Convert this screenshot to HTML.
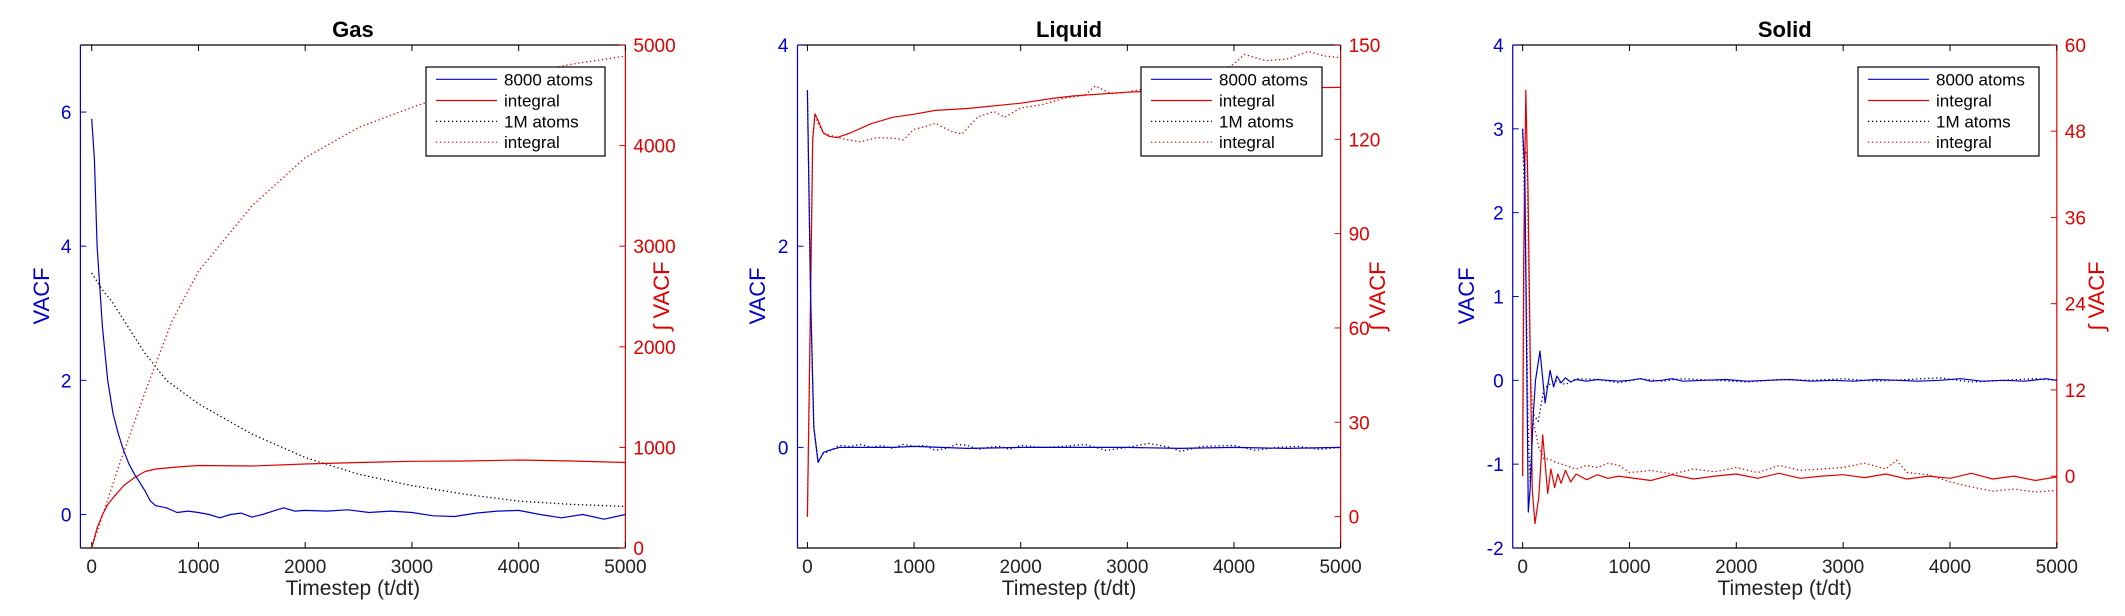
<!DOCTYPE html>
<html><head><meta charset="utf-8">
<style>
html,body{margin:0;padding:0;background:#fff;}
svg{display:block;font-family:"Liberation Sans",Arial,sans-serif;}
</style></head>
<body>
<svg id="fig" width="2125" height="616" viewBox="0 0 2125 616" xmlns="http://www.w3.org/2000/svg"></svg>
<script>
// ---------- Tick labels ----------
const xTicks = [0,1000,2000,3000,4000,5000];
const gasLeftTicks = [0,2,4,6];
const gasRightTicks = [0,1000,2000,3000,4000,5000];
const liqLeftTicks = [0,2,4];
const liqRightTicks = [0,30,60,90,120,150];
const solLeftTicks = [-2,-1,0,1,2,3,4];
const solRightTicks = [0,12,24,36,48,60];

// ---------- Gas data ----------
const gasT8k = [0,25,50,100,150,200,250,300,350,400,450,500,550,600,700,800,900,1000,1100,1200,1300,1400,1500,1600,1700,1800,1900,2000,2200,2400,2600,2800,3000,3200,3400,3600,3800,4000,4200,4400,4600,4800,5000];
const gasV8k = [5.9,5.3,4.0,2.8,2.0,1.5,1.2,0.95,0.75,0.6,0.48,0.35,0.2,0.13,0.1,0.03,0.05,0.03,0.0,-0.05,0.0,0.02,-0.04,0.0,0.05,0.1,0.05,0.06,0.05,0.07,0.03,0.05,0.03,-0.02,-0.03,0.02,0.05,0.06,0.0,-0.05,0.0,-0.07,0.0];
const gasTI8k = [0,50,100,150,200,300,400,500,600,800,1000,1500,2000,2500,3000,3500,4000,4500,5000];
const gasI8k = [0,200,330,430,500,620,700,760,785,805,820,815,835,850,862,865,875,865,850];
const gasT1M = [0,100,200,300,500,700,1000,1500,2000,2500,3000,3500,4000,4500,5000];
const gasV1M = [3.6,3.35,3.15,2.9,2.4,2.0,1.65,1.2,0.85,0.6,0.43,0.3,0.2,0.15,0.12];
const gasTI1M = [0,250,500,750,1000,1500,2000,2500,3000,3500,4000,4500,5000];
const gasI1M = [0,800,1550,2250,2750,3400,3880,4180,4380,4560,4700,4810,4890];

// ---------- Liquid data ----------
const liqT8k = [0,30,60,100,150,200,300,500,800,1000,1500,2000,2500,3000,3500,4000,4500,5000];
const liqV8k = [3.55,1.5,0.2,-0.15,-0.05,-0.03,0.0,0.0,0.0,0.01,-0.01,0.0,0.0,0.0,-0.01,0.0,-0.01,0.0];
const liqT1M = [0,30,60,100,150,200,300,400,500,600,700,800,900,1000,1100,1200,1300,1400,1500,1600,1700,1800,1900,2000,2200,2400,2600,2800,3000,3200,3400,3500,3700,4000,4200,4400,4600,4800,5000];
const liqV1M = [3.55,1.5,0.2,-0.14,-0.06,-0.04,0.02,0.01,0.03,0.0,0.02,-0.01,0.03,0.01,0.02,-0.03,-0.01,0.03,0.02,-0.02,0.0,0.01,-0.02,0.02,0.0,0.01,0.03,-0.03,0.0,0.04,0.0,-0.04,0.01,0.02,-0.03,0.0,0.01,-0.02,0.0];
const liqTI8k = [0,30,50,71,100,150,200,274,400,600,800,1000,1200,1500,2000,2300,2500,3000,3500,4000,5000];
const liqI8k = [0,70,120,128.1,126,122,121,120.5,122,125,127,128,129.2,129.8,131.5,133,133.8,135,135.7,136.2,136.5];
const liqTI1M = [0,30,50,71,100,150,200,350,500,650,800,900,1000,1100,1200,1350,1450,1600,1750,1850,2000,2200,2400,2600,2700,2850,3000,3150,3300,3450,3600,3800,4000,4100,4200,4300,4500,4700,4850,5000];
const liqI1M = [0,70,120,128,125,122,121.4,120,119.2,120.5,120.4,119.8,123.2,124,125.1,122.5,121.7,127.2,128.8,127,130,131,133,134,137,134.5,135,136,139,141,139.5,140,144,147,146,145,145.5,148,146.5,146];

// ---------- Solid data ----------
const solT8k = [0,20,40,53,70,100,120,163,210,257,290,320,360,400,450,500,600,700,800,900,1000,1100,1200,1300,1400,1500,1700,1900,2100,2300,2500,2700,2900,3100,3300,3500,3700,3900,4100,4300,4500,4700,4900,5000];
const solV8k = [3.0,2.5,0.0,-1.57,-1.3,-0.4,0.0,0.35,-0.27,0.12,-0.08,0.05,-0.03,0.03,-0.02,0.01,-0.01,0.01,0.0,-0.01,0.0,0.02,-0.01,0.0,0.02,-0.01,0.0,0.01,-0.01,0.0,0.01,-0.01,0.0,-0.01,0.01,0.0,-0.01,0.0,0.02,-0.01,0.0,-0.01,0.02,0.0];
const solT1M = [0,30,50,70,100,145,200,250,300,400,500,700,900,1100,1300,1500,1800,2100,2400,2700,3000,3300,3600,3900,4200,4500,4800,5000];
const solV1M = [3.0,1.5,-0.5,-1.2,-0.4,-0.49,-0.1,-0.05,0.0,-0.05,0.02,0.01,-0.03,0.02,-0.01,0.02,0.0,-0.02,0.01,0.0,0.02,-0.01,0.01,0.03,-0.02,0.0,0.02,0.0];
const solTI8k = [0,10,30,50,70,90,116,150,188,235,265,300,330,360,400,450,500,600,700,800,900,1000,1200,1400,1600,1800,2000,2200,2400,2600,2800,3000,3200,3400,3600,3800,4000,4200,4400,4600,4800,5000];
const solI8k = [0,30,53.7,40,18,-2,-6.6,-3,5.75,-2.4,1.0,-1.6,0.3,-1.0,0.8,-0.8,0.3,-0.5,0.2,-0.3,0.0,-0.2,-0.6,0.2,-0.4,0.0,0.3,-0.3,0.4,-0.3,0.0,0.2,-0.2,0.3,-0.4,0.0,-0.3,0.4,-0.4,0.0,-0.6,-0.1];
const solTI1M = [0,20,40,70,100,150,200,250,300,400,500,600,700,800,900,1000,1200,1400,1600,1800,2000,2200,2400,2600,2800,3000,3200,3400,3500,3600,3800,4000,4200,4400,4600,4800,5000];
const solI1M = [0,45,45,15,7.7,4,2.4,2.4,2.0,1.5,1.0,1.5,1.2,1.8,1.5,0.5,0.8,0.3,1.0,0.6,1.2,0.5,1.5,0.8,1.0,1.2,1.8,1.0,2.2,0.5,0.2,-0.8,-1.5,-2.1,-1.8,-2.2,-2.0];

// ---------- drawing ----------
const NS = "http://www.w3.org/2000/svg";
const svg = document.getElementById('fig');
function mk(tag, attrs, parent){
  const e = document.createElementNS(NS, tag);
  for (const k in attrs) e.setAttribute(k, attrs[k]);
  (parent||svg).appendChild(e);
  return e;
}
const BLUE = "#0000c8", RED = "#e00000", BLACK = "#000";
const TOP = 45, BOT = 548;

function panel(p){
  const g = mk('g', {});
  
  
  const xs = t => p.left + (t - p.xmin) / (5000 - p.xmin) * (p.right - p.left);
  const yl = v => BOT - (v - p.ylMin) / (p.ylMax - p.ylMin) * (BOT - TOP);
  const yr = v => BOT - (v - p.yrMin) / (p.yrMax - p.yrMin) * (BOT - TOP);
  // axes lines
  let e;
  e = mk('line', {x1:p.left, y1:TOP, x2:p.right, y2:TOP, stroke:BLACK, 'stroke-width':1.2}, g);
   
  e = mk('line', {x1:p.left, y1:BOT, x2:p.right, y2:BOT, stroke:BLACK, 'stroke-width':1.2}, g);
   
  e = mk('line', {x1:p.left, y1:TOP, x2:p.left, y2:BOT, stroke:BLUE, 'stroke-width':1.2}, g);
   
  e = mk('line', {x1:p.right, y1:TOP, x2:p.right, y2:BOT, stroke:RED, 'stroke-width':1.2}, g);
   
  // x ticks
  xTicks.forEach(t => {
    const x = xs(t);
    mk('line', {x1:x, y1:BOT, x2:x, y2:BOT-6, stroke:BLACK, 'stroke-width':1}, g);
    mk('line', {x1:x, y1:TOP, x2:x, y2:TOP+6, stroke:BLACK, 'stroke-width':1}, g);
    const tx = mk('text', {x:x, y:573, 'font-size':19, 'text-anchor':'middle', fill:'#222'}, g);
    
    
    tx.textContent = t;
  });
  p.lt.forEach(v => {
    const y = yl(v);
    mk('line', {x1:p.left, y1:y, x2:p.left+6, y2:y, stroke:BLUE, 'stroke-width':1}, g);
    const tx = mk('text', {x:p.left-9, y:y+7, 'font-size':19, 'text-anchor':'end', fill:BLUE}, g);
    
    
    tx.textContent = v;
  });
  p.rt.forEach(v => {
    const y = yr(v);
    mk('line', {x1:p.right, y1:y, x2:p.right-6, y2:y, stroke:RED, 'stroke-width':1}, g);
    const tx = mk('text', {x:p.right+8, y:y+7, 'font-size':19, 'text-anchor':'start', fill:RED}, g);
    
    
    tx.textContent = v;
  });
  // series
  function series(ts, vs, yfn, color, dotted, nm){
    const d = ts.map((t,i) => (i?'L':'M') + xs(t).toFixed(1) + ',' + yfn(vs[i]).toFixed(1)).join('');
    const a = {d:d, fill:'none', stroke:color, 'stroke-width':dotted?1.3:1.2, 'stroke-linejoin':'round'};
    if (dotted) a['stroke-dasharray'] = '1.3 2.7';
    const path = mk('path', a, g);
    
    
  }
  series(p.d.tI1M, p.d.i1M, yr, RED, true, 'integral-1m-line');
  series(p.d.t1M, p.d.v1M, yl, p.name==='gas'?BLACK:'#000070', true, 'vacf-1m-line');
  series(p.d.tI8k, p.d.i8k, yr, RED, false, 'integral-8000-line');
  series(p.d.t8k, p.d.v8k, yl, BLUE, false, 'vacf-8000-line');
  // title
  const ti = mk('text', {x:(p.left+p.right)/2, y:37, 'font-size':22, 'font-weight':'bold', 'text-anchor':'middle', fill:BLACK}, g);
   
  ti.textContent = p.title;
  const xt = mk('text', {x:(p.left+p.right)/2, y:595, 'font-size':21, 'text-anchor':'middle', fill:'#222'}, g);
   
  xt.textContent = 'Timestep (t/dt)';
  const yt = mk('text', {x:0, y:0, 'font-size':22, 'text-anchor':'middle', fill:BLUE, transform:`translate(${p.ylab+8},296) rotate(-90)`}, g);
   
  yt.textContent = 'VACF';
  const yt2 = mk('text', {x:0, y:0, 'font-size':22, 'text-anchor':'middle', fill:RED, transform:`translate(${p.yrlab+8},296) rotate(-90)`}, g);
   
  yt2.textContent = '\u222B VACF';
  // legend
  const lg = mk('g', {}, g);
   
  mk('rect', {x:p.lgx, y:67, width:p.lgw, height:89, fill:'#fff', stroke:BLACK, 'stroke-width':1.2}, lg);
  const entries = [['8000 atoms',BLUE,false],['integral',RED,false],['1M atoms',BLACK,true],['integral',RED,true]];
  const rows = [79.3,100.5,121.4,142.2];
  entries.forEach((en,i) => {
    const y = rows[i];
    const la = {x1:p.lgx+10, y1:y, x2:p.lgx+71, y2:y, stroke:en[1], 'stroke-width':1.2};
    if (en[2]) la['stroke-dasharray'] = '1.3 2.7';
    mk('line', la, lg);
    const tx = mk('text', {x:p.lgx+78, y:y+6, 'font-size':17, fill:BLACK}, lg);
     
    tx.textContent = en[0];
  });
}

panel({name:'gas', title:'Gas', left:80.4, right:625.4, xmin:-106, ylMin:-0.5, ylMax:7, yrMin:0, yrMax:5000,
  lt:gasLeftTicks, rt:gasRightTicks, ylab:41, yrlab:661, lgx:426, lgw:179,
  d:{t8k:gasT8k, v8k:gasV8k, tI8k:gasTI8k, i8k:gasI8k, t1M:gasT1M, v1M:gasV1M, tI1M:gasTI1M, i1M:gasI1M}});
panel({name:'liquid', title:'Liquid', left:797.5, right:1340.6, xmin:-93, ylMin:-1, ylMax:4, yrMin:-10, yrMax:150,
  lt:liqLeftTicks, rt:liqRightTicks, ylab:757, yrlab:1377, lgx:1141, lgw:181,
  d:{t8k:liqT8k, v8k:liqV8k, tI8k:liqTI8k, i8k:liqI8k, t1M:liqT1M, v1M:liqV1M, tI1M:liqTI1M, i1M:liqI1M}});
panel({name:'solid', title:'Solid', left:1512.7, right:2056.8, xmin:-93, ylMin:-2, ylMax:4, yrMin:-10, yrMax:60,
  lt:solLeftTicks, rt:solRightTicks, ylab:1466, yrlab:2096, lgx:1858, lgw:181,
  d:{t8k:solT8k, v8k:solV8k, tI8k:solTI8k, i8k:solI8k, t1M:solT1M, v1M:solV1M, tI1M:solTI1M, i1M:solI1M}});
</script>
</body></html>
